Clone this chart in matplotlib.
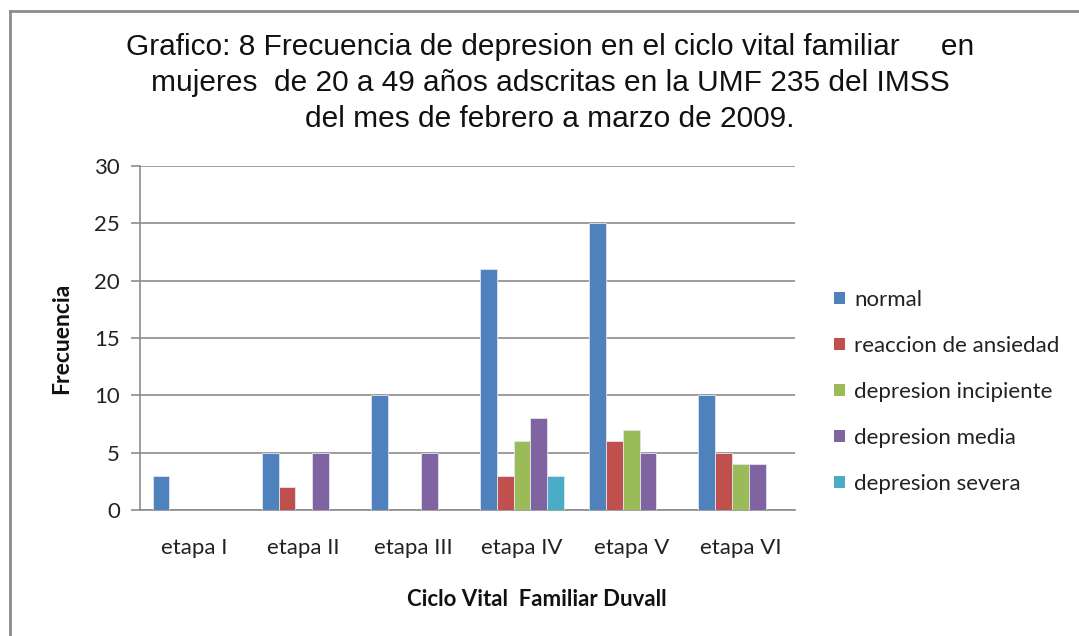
import matplotlib
matplotlib.use("Agg")
import matplotlib.pyplot as plt
import numpy as np
from matplotlib.lines import Line2D
from matplotlib.patches import Patch

categories = ["etapa I", "etapa II", "etapa III", "etapa IV", "etapa V", "etapa VI"]
series_names = ["normal", "reaccion de ansiedad", "depresion incipiente",
                "depresion media", "depresion severa"]
normal = [3, 5, 10, 21, 25, 10]
ansiedad = [0, 2, 0, 3, 6, 5]
incipiente = [0, 0, 0, 6, 7, 4]
media = [0, 5, 5, 8, 5, 4]
severa = [0, 0, 0, 3, 0, 0]
yticks = [0, 5, 10, 15, 20, 25, 30]

series = [normal, ansiedad, incipiente, media, severa]
colors = ["#4F81BD", "#C0504D", "#9BBB59", "#8064A2", "#4BACC6"]

W, H = 1079, 636
fig = plt.figure(figsize=(W / 100, H / 100), dpi=100)
ax = fig.add_axes([140 / W, 1 - 510 / H, (795 - 140) / W, (510 - 166) / H])

n = len(series)
bw = 1.0 / (n + 1.5)
x = np.arange(len(categories))
for i, (vals, c) in enumerate(zip(series, colors)):
    offs = -0.5 + 0.75 * bw + (i + 0.5) * bw
    vals = np.array(vals, dtype=float)
    mask = vals > 0
    ax.bar(x[mask] + offs, vals[mask], width=bw, color=c,
           edgecolor="#dfe6f0", linewidth=0.6, zorder=3)

ax.set_xlim(-0.5, len(categories) - 0.5)
ax.set_ylim(0, 30)
ax.set_yticks(yticks)
ax.set_xticks(x)
ax.set_xticklabels(categories)
ax.yaxis.grid(True, color="#8c8c8c", linewidth=1.2, zorder=0)
ax.set_axisbelow(True)
for s in ["top", "right"]:
    ax.spines[s].set_visible(False)
for s in ["left", "bottom"]:
    ax.spines[s].set_color("#8c8c8c")
    ax.spines[s].set_linewidth(1.2)
ax.tick_params(axis="y", length=6.5, width=1.2, color="#8c8c8c", pad=8,
               labelsize=16, labelcolor="#222222")
ax.tick_params(axis="x", length=0, pad=20, labelsize=16, labelcolor="#222222")
for lab in ax.get_xticklabels() + ax.get_yticklabels():
    lab.set_fontfamily("Lato")

fig.text(537 / W, 1 - 600 / H, "Ciclo Vital  Familiar Duvall", ha="center", va="center",
         fontsize=16, fontweight="bold", family="Lato", color="#111111")
fig.text(62 / W, 1 - 338 / H, "Frecuencia", ha="center", va="center", rotation=90,
         fontsize=16.5, fontweight="bold", family="Lato", color="#111111")

title = ("Grafico: 8 Frecuencia de depresion en el ciclo vital familiar     en\n"
         "mujeres  de 20 a 49 años adscritas en la UMF 235 del IMSS\n"
         "del mes de febrero a marzo de 2009.")
fig.text(550 / W, 1 - 83 / H, title, ha="center", va="center", fontsize=21.5,
         family="Liberation Sans", linespacing=1.38, color="#111111")

handles = [Patch(facecolor=c, edgecolor="none") for c in colors]
fig.legend(handles, series_names, loc="upper left",
           bbox_to_anchor=(814 / W, 1 - 270 / H), frameon=False,
           prop={"family": "Lato", "size": 16}, handlelength=0.5, handleheight=0.5,
           handletextpad=0.4, labelspacing=1.17, labelcolor="#222222")

# outer chart frame
fig.add_artist(Line2D([10 / W, 10 / W], [0, 1 - 11 / H], transform=fig.transFigure,
                      color="#8c8c8c", linewidth=2))
fig.add_artist(Line2D([10 / W, 1], [1 - 11 / H, 1 - 11 / H], transform=fig.transFigure,
                      color="#8c8c8c", linewidth=2))

fig.savefig("out.png", dpi=100)
